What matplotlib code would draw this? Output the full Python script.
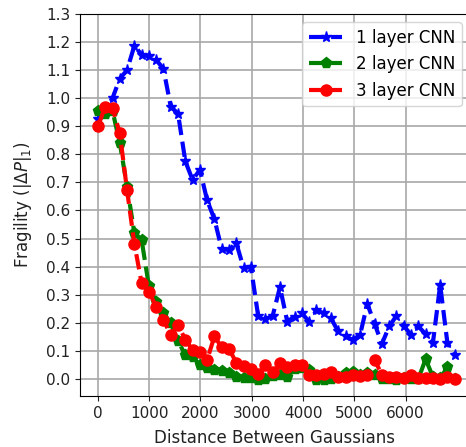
import matplotlib
matplotlib.use("Agg")
import matplotlib.pyplot as plt

distance = [0, 142, 284, 426, 568, 710, 852, 994, 1136, 1278,
            1420, 1562, 1704, 1846, 1988, 2130, 2272, 2414, 2556, 2698,
            2840, 2982, 3124, 3266, 3408, 3550, 3692, 3834, 3976, 4118,
            4260, 4402, 4544, 4686, 4828, 4970, 5112, 5254, 5396, 5538,
            5680, 5822, 5964, 6106, 6248, 6390, 6532, 6674, 6816, 6958]

cnn1 = [0.925, 0.96, 1.0, 1.07, 1.10, 1.187, 1.155, 1.149, 1.137, 1.104,
        0.97, 0.945, 0.775, 0.709, 0.745, 0.636, 0.569, 0.462, 0.46, 0.484,
        0.395, 0.40, 0.225, 0.213, 0.225, 0.327, 0.204, 0.222, 0.234, 0.204,
        0.244, 0.234, 0.216, 0.169, 0.151, 0.139, 0.157, 0.267, 0.196, 0.125,
        0.187, 0.225, 0.189, 0.157, 0.187, 0.160, 0.127, 0.335, 0.127, 0.086]

cnn2 = [0.955, 0.945, 0.955, 0.84, 0.685, 0.52, 0.495, 0.33, 0.275, 0.235,
        0.198, 0.135, 0.085, 0.078, 0.05, 0.04, 0.032, 0.027, 0.02, 0.008,
        0.003, 0.002, -0.003, -0.002, 0.01, 0.015, 0.008, 0.035, 0.038, 0.03,
        -0.003, -0.004, 0.0, 0.005, 0.02, 0.025, 0.015, 0.02, 0.015, 0.0,
        0.0, -0.003, 0.002, 0.0, 0.0, 0.07, 0.008, 0.002, 0.042, 0.0]

cnn3 = [0.90, 0.97, 0.965, 0.875, 0.672, 0.482, 0.341, 0.311, 0.257, 0.21,
        0.157, 0.192, 0.14, 0.103, 0.094, 0.068, 0.152, 0.112, 0.107, 0.058,
        0.046, 0.036, 0.016, 0.048, 0.026, 0.058, 0.043, 0.05, 0.05, 0.014,
        0.014, 0.018, 0.026, 0.008, 0.008, 0.014, 0.011, 0.014, 0.068, 0.014,
        0.008, 0.006, 0.002, 0.014, 0.002, 0.002, 0.002, 0.0, 0.008, 0.0]

labels = ["1 layer CNN", "2 layer CNN", "3 layer CNN"]
xticks = [0, 1000, 2000, 3000, 4000, 5000, 6000]
yticks = [0.0, 0.1, 0.2, 0.3, 0.4, 0.5, 0.6, 0.7, 0.8, 0.9, 1.0, 1.1, 1.2, 1.3]

fig = plt.figure(figsize=(4.66, 4.47), dpi=100)
ax = fig.add_axes([80/466, 1-396/447, (470-80)/466, (396-14)/447])

ax.plot(distance, cnn1, 'b--', marker='*', markersize=8, linewidth=3, label=labels[0])
ax.plot(distance, cnn2, 'g--', marker='p', markersize=8, linewidth=3, label=labels[1])
ax.plot(distance, cnn3, 'r--', marker='o', markersize=8, linewidth=3, label=labels[2])

ax.set_xlim(-350, 7256)
ax.set_ylim(-0.061, 1.3)
ax.set_xticks(xticks)
ax.set_yticks(yticks)
ax.tick_params(labelsize=11, colors='#222222')
ax.grid(True, color='#a8a8a8', linewidth=1.2)
ax.set_axisbelow(True)
ax.set_xlabel("Distance Between Gaussians", fontsize=12, labelpad=6, color='#222222')
ax.set_ylabel(r"Fragility ($|\Delta P|_1$)", fontsize=12, labelpad=9, color='#222222')
ax.legend(loc='upper right', fontsize=12)

fig.savefig("out.png", dpi=100)
